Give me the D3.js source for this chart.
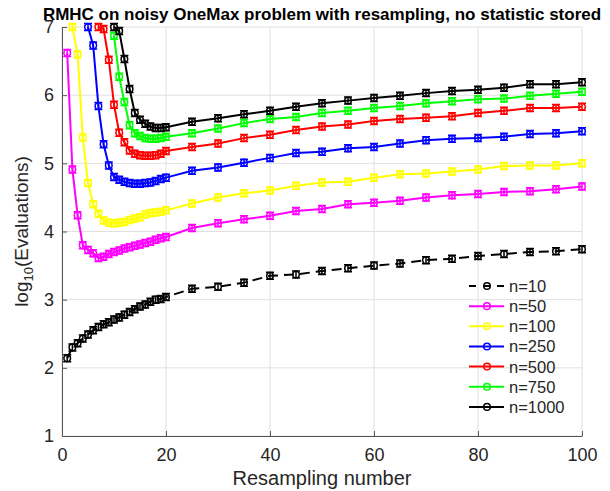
<!DOCTYPE html>
<html>
<head>
<meta charset="utf-8">
<script src="https://cdn.jsdelivr.net/npm/d3@7"></script>
<style>
body { margin: 0; background: #fff; }
text { font-family: "Liberation Sans", Arial, Helvetica, sans-serif; fill: #262626; }
</style>
</head>
<body>
<svg width="610" height="491"></svg>
<script>
// resampling numbers on the x axis
var resampling = [1, 2, 3, 4, 5, 6, 7, 8, 9, 10, 11, 12, 13, 14, 15, 16, 17, 18, 19, 20,
                  25, 30, 35, 40, 45, 50, 55, 60, 65, 70, 75, 80, 85, 90, 95, 100];

// log10(evaluations), null = above the top of the plot
var n10 = [2.14, 2.30, 2.36, 2.43, 2.49, 2.55, 2.60, 2.64, 2.67, 2.71, 2.74, 2.78, 2.82, 2.86, 2.90, 2.93, 2.97, 3.00, 3.01, 3.04,
           3.16, 3.19, 3.25, 3.35, 3.37, 3.42, 3.46, 3.50, 3.53, 3.58, 3.60, 3.64, 3.67, 3.70, 3.71, 3.74];
var n50 = [6.62, 4.91, 4.24, 3.80, 3.73, 3.68, 3.61, 3.63, 3.67, 3.70, 3.72, 3.75, 3.77, 3.79, 3.81, 3.83, 3.85, 3.88, 3.90, 3.92,
           4.05, 4.12, 4.18, 4.23, 4.30, 4.33, 4.40, 4.42, 4.45, 4.50, 4.53, 4.55, 4.58, 4.59, 4.62, 4.66];
var n100 = [null, 7.00, 6.60, 5.38, 4.71, 4.40, 4.26, 4.16, 4.13, 4.12, 4.13, 4.14, 4.17, 4.19, 4.21, 4.25, 4.27, 4.28, 4.29, 4.31,
            4.41, 4.50, 4.56, 4.60, 4.67, 4.72, 4.73, 4.79, 4.84, 4.85, 4.88, 4.91, 4.96, 4.97, 4.97, 5.00];
var n250 = [null, null, null, null, 7.00, 6.73, 5.84, 5.28, 4.97, 4.80, 4.76, 4.73, 4.71, 4.70, 4.70, 4.71, 4.72, 4.74, 4.77, 4.79,
            4.89, 4.94, 5.01, 5.08, 5.15, 5.17, 5.22, 5.24, 5.29, 5.34, 5.36, 5.37, 5.39, 5.43, 5.44, 5.47];
var n500 = [null, null, null, null, null, null, 7.00, 6.97, 6.52, 5.86, 5.45, 5.31, 5.19, 5.14, 5.12, 5.11, 5.11, 5.12, 5.14, 5.18,
            5.24, 5.29, 5.37, 5.42, 5.49, 5.54, 5.57, 5.62, 5.65, 5.67, 5.69, 5.74, 5.77, 5.81, 5.81, 5.83];
var n750 = [null, null, null, null, null, null, null, null, null, 6.87, 6.27, 5.90, 5.56, 5.44, 5.40, 5.37, 5.36, 5.36, 5.37, 5.39,
            5.44, 5.51, 5.59, 5.65, 5.68, 5.74, 5.77, 5.81, 5.84, 5.88, 5.91, 5.94, 5.95, 5.99, 6.02, 6.05];
var n1000 = [null, null, null, null, null, null, null, null, null, 7.00, 6.94, 6.53, 6.09, 5.74, 5.64, 5.58, 5.54, 5.52, 5.52, 5.53,
             5.61, 5.66, 5.72, 5.77, 5.83, 5.88, 5.92, 5.96, 5.99, 6.03, 6.06, 6.08, 6.11, 6.16, 6.16, 6.19];

var seriesNames = ["n=10", "n=50", "n=100", "n=250", "n=500", "n=750", "n=1000"];
var seriesValues = [n10, n50, n100, n250, n500, n750, n1000];
var seriesColors = ["#000000", "#ff00ff", "#ffff00", "#0000ff", "#ff0000", "#00ff00", "#000000"];
var xTicks = [0, 20, 40, 60, 80, 100];
var yTicks = [1, 2, 3, 4, 5, 6, 7];

var svg = d3.select("svg"),
    margin = {top: 27, right: 28, bottom: 55, left: 62},
    width = +svg.attr("width") - margin.left - margin.right,
    height = +svg.attr("height") - margin.top - margin.bottom,
    g = svg.append("g").attr("transform", "translate(" + margin.left + "," + margin.top + ")");

var x = d3.scaleLinear().domain([0, 100]).range([0, width]);
var y = d3.scaleLinear().domain([1, 7]).range([height, 0]);

// grid
g.append("g").selectAll("line").data(xTicks).enter().append("line")
 .attr("x1", function(d) { return x(d); }).attr("x2", function(d) { return x(d); })
 .attr("y1", 0).attr("y2", height)
 .attr("stroke", "#e0e0e0").attr("stroke-width", 1);
g.append("g").selectAll("line").data(yTicks).enter().append("line")
 .attr("y1", function(d) { return y(d); }).attr("y2", function(d) { return y(d); })
 .attr("x1", 0).attr("x2", width)
 .attr("stroke", "#e0e0e0").attr("stroke-width", 1);

// axes
var xAxis = g.append("g")
 .attr("transform", "translate(0," + height + ")")
 .call(d3.axisBottom(x).tickValues(xTicks).tickFormat(d3.format("d"))
         .tickSizeInner(-5).tickSizeOuter(0).tickPadding(12));
var yAxis = g.append("g")
 .call(d3.axisLeft(y).tickValues(yTicks).tickFormat(d3.format("d"))
         .tickSizeInner(-5).tickSizeOuter(0).tickPadding(8));
[xAxis, yAxis].forEach(function(a) {
  a.select(".domain").attr("stroke", "#555");
  a.selectAll(".tick line").attr("stroke", "#555");
  a.selectAll(".tick text").attr("font-size", 18).attr("font-family", null).style("fill", "#262626");
});

g.append("clipPath").attr("id", "plotclip")
 .append("rect").attr("x", 0).attr("y", -1).attr("width", width + 5).attr("height", height + 1);

var line = d3.line()
  .defined(function(d) { return d[1] != null; })
  .x(function(d) { return x(d[0]); })
  .y(function(d) { return y(d[1]); });

seriesValues.forEach(function(vals, i) {
  var pts = resampling.map(function(r, j) { return [r, vals[j]]; });
  var col = seriesColors[i];
  var s = g.append("g");
  s.append("path")
   .datum(pts)
   .attr("clip-path", "url(#plotclip)")
   .attr("fill", "none")
   .attr("stroke", col)
   .attr("stroke-width", 2)
   .attr("stroke-dasharray", i === 0 ? "10,6" : null)
   .attr("d", line);

  var shown = pts.filter(function(d) { return d[1] != null && d[1] <= 7.02; });
  var eb = s.selectAll(".eb").data(shown).enter().append("g")
   .attr("transform", function(d) { return "translate(" + x(d[0]) + "," + y(d[1]) + ")"; });
  eb.append("path")
   .attr("d", "M0,-3.5V3.5M-4,-3.5H4M-4,3.5H4")
   .attr("stroke", col).attr("stroke-width", 1.5).attr("fill", "none");
  eb.append("circle")
   .attr("r", 3.3)
   .attr("fill", "none").attr("stroke", col).attr("stroke-width", 1.5);
});

// title and labels
svg.append("text")
 .attr("x", margin.left + width / 2).attr("y", 20)
 .attr("text-anchor", "middle")
 .attr("font-size", 17).attr("font-weight", "bold")
 .style("fill", "#000")
 .text("RMHC on noisy OneMax problem with resampling, no statistic stored");

svg.append("text")
 .attr("x", margin.left + width / 2).attr("y", 485)
 .attr("text-anchor", "middle")
 .attr("font-size", 20)
 .text("Resampling number");

var yl = svg.append("text")
 .attr("transform", "translate(28," + (margin.top + height / 2) + ") rotate(-90)")
 .attr("text-anchor", "middle")
 .attr("font-size", 19);
yl.append("tspan").text("log");
yl.append("tspan").attr("font-size", 13).attr("dy", 5).text("10");
yl.append("tspan").attr("dy", -5).text("(Evaluations)");

// legend
var legend = svg.append("g").attr("transform", "translate(469,286)");
var item = legend.selectAll("g").data(seriesNames).enter().append("g")
 .attr("transform", function(d, i) { return "translate(0," + (i * 20.15) + ")"; });
item.append("line")
 .attr("x1", 0).attr("x2", 35).attr("y1", 0).attr("y2", 0)
 .attr("stroke", function(d, i) { return seriesColors[i]; })
 .attr("stroke-width", 2)
 .attr("stroke-dasharray", function(d, i) { return i === 0 ? "7,7" : null; });
item.append("circle")
 .attr("cx", 18).attr("r", 3.3)
 .attr("fill", "none")
 .attr("stroke", function(d, i) { return seriesColors[i]; })
 .attr("stroke-width", 1.5);
item.append("text")
 .attr("x", 40).attr("dy", "0.36em")
 .attr("font-size", 16.5)
 .text(function(d) { return d; });
</script>
</body>
</html>
